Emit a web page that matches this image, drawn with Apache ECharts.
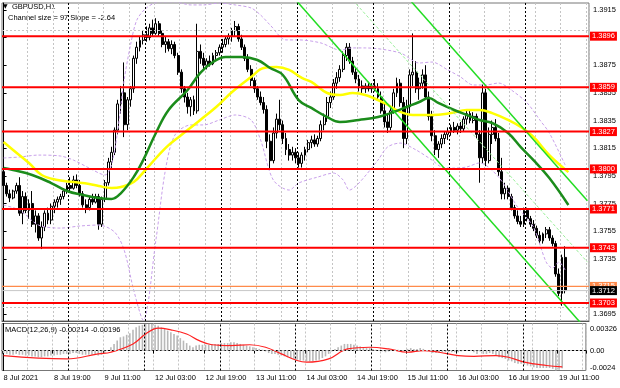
<!DOCTYPE html>
<html><head><meta charset="utf-8">
<script src="https://cdn.jsdelivr.net/npm/echarts@6/dist/echarts.min.js"></script>
<style>html,body{margin:0;padding:0;background:#fff}#c{width:620px;height:388px}</style>
</head><body><div id="c"></div>
<script>
// ---- data ----
const symbolTitle = 'GBPUSD,H1';
const channelText = 'Channel size = 97 Slope = -2.64';
const macdText = 'MACD(12,26,9) -0.00214 -0.00196';
const slotCount = 185;                 // bars + empty right shift
const timeLabels = ['8 Jul 2021','8 Jul 19:00','9 Jul 11:00','12 Jul 03:00','12 Jul 19:00','13 Jul 11:00','14 Jul 03:00','14 Jul 19:00','15 Jul 11:00','16 Jul 03:00','16 Jul 19:00','19 Jul 11:00'];
const labelStep = 16;
const daySeparators = [20.5, 44.5, 68.5, 92.5, 116.5, 140.5, 164.5];
const priceTicks = [1.3695,1.3715,1.3735,1.3755,1.3775,1.3795,1.3815,1.3835,1.3855,1.3875,1.3895,1.3915];
const redLevels = [1.3896,1.3859,1.3827,1.3800,1.3771,1.3743,1.3703];
const orangeLevel = 1.3715;
const lastPrice = 1.3712;
const macdTicks = [0.00326, 0, -0.0024];
const macdTickLabels = ['0.00326','0.00','-0.0024'];
// candles: [open, high, low, close]
const candles = [
[1.3798,1.3800,1.3786,1.3788],[1.3788,1.3790,1.3780,1.3782],[1.3782,1.3785,1.3776,1.3779],[1.3779,1.3785,1.3778,1.3784],[1.3784,1.3790,1.3782,1.3788],
[1.3788,1.3794,1.3766,1.3768],[1.3768,1.3784,1.3760,1.3780],[1.3780,1.3783,1.3768,1.3770],[1.3770,1.3778,1.3764,1.3775],[1.3775,1.3784,1.3758,1.3760],
[1.3760,1.3770,1.3754,1.3766],[1.3766,1.3768,1.3748,1.3750],[1.3750,1.3762,1.3742,1.3758],[1.3758,1.3770,1.3755,1.3768],[1.3768,1.3772,1.3760,1.3763],
[1.3763,1.3775,1.3760,1.3773],[1.3773,1.3778,1.3768,1.3776],[1.3776,1.3780,1.3772,1.3778],[1.3778,1.3782,1.3774,1.3780],[1.3780,1.3786,1.3778,1.3784],
[1.3784,1.3790,1.3782,1.3788],[1.3788,1.3794,1.3784,1.3786],[1.3786,1.3795,1.3785,1.3792],[1.3792,1.3796,1.3786,1.3788],[1.3788,1.3792,1.3780,1.3782],
[1.3782,1.3784,1.3772,1.3774],[1.3774,1.3778,1.3768,1.3772],[1.3772,1.3780,1.3770,1.3778],[1.3778,1.3782,1.3774,1.3776],[1.3776,1.3782,1.3775,1.3780],
[1.3780,1.3782,1.3756,1.3760],[1.3760,1.3780,1.3758,1.3778],[1.3778,1.3792,1.3776,1.3790],[1.3790,1.3808,1.3788,1.3805],[1.3805,1.3816,1.3800,1.3812],
[1.3812,1.3830,1.3810,1.3828],[1.3828,1.3850,1.3825,1.3847],[1.3847,1.3860,1.3840,1.3855],[1.3855,1.3877,1.3823,1.3832],[1.3832,1.3852,1.3828,1.3850],
[1.3850,1.3860,1.3845,1.3858],[1.3858,1.3882,1.3855,1.3880],[1.3880,1.3892,1.3876,1.3888],[1.3888,1.3896,1.3885,1.3893],[1.3893,1.3900,1.3890,1.3897],
[1.3897,1.3903,1.3892,1.3895],[1.3895,1.3905,1.3893,1.3902],[1.3902,1.3908,1.3896,1.3898],[1.3898,1.3909,1.3897,1.3905],[1.3905,1.3907,1.3896,1.3898],
[1.3898,1.3900,1.3888,1.3890],[1.3890,1.3896,1.3884,1.3892],[1.3892,1.3894,1.3885,1.3887],[1.3887,1.3893,1.3883,1.3890],[1.3890,1.3892,1.3880,1.3882],
[1.3882,1.3884,1.3868,1.3870],[1.3870,1.3872,1.3855,1.3858],[1.3858,1.3860,1.3848,1.3852],[1.3852,1.3855,1.3840,1.3845],[1.3845,1.3852,1.3838,1.3850],
[1.3850,1.3853,1.3839,1.3842],[1.3842,1.3905,1.3840,1.3885],[1.3885,1.3890,1.3876,1.3880],[1.3880,1.3884,1.3872,1.3875],[1.3875,1.3880,1.3872,1.3878],
[1.3878,1.3882,1.3874,1.3876],[1.3876,1.3884,1.3875,1.3882],[1.3882,1.3886,1.3878,1.3884],[1.3884,1.3890,1.3882,1.3888],[1.3888,1.3894,1.3884,1.3890],
[1.3890,1.3896,1.3888,1.3894],[1.3894,1.3898,1.3890,1.3896],[1.3896,1.3902,1.3892,1.3900],[1.3900,1.3907,1.3896,1.3903],[1.3903,1.3905,1.3892,1.3894],
[1.3894,1.3897,1.3886,1.3888],[1.3888,1.3890,1.3878,1.3880],[1.3880,1.3883,1.3870,1.3872],[1.3872,1.3875,1.3860,1.3864],[1.3864,1.3866,1.3855,1.3858],
[1.3858,1.3860,1.3850,1.3852],[1.3852,1.3856,1.3846,1.3848],[1.3848,1.3852,1.3840,1.3843],[1.3843,1.3846,1.3815,1.3820],[1.3820,1.3825,1.3800,1.3806],
[1.3806,1.3830,1.3804,1.3826],[1.3826,1.3840,1.3822,1.3836],[1.3836,1.3850,1.3828,1.3832],[1.3832,1.3835,1.3818,1.3822],[1.3822,1.3826,1.3810,1.3814],
[1.3814,1.3818,1.3806,1.3810],[1.3810,1.3816,1.3806,1.3812],[1.3812,1.3815,1.3804,1.3808],[1.3808,1.3812,1.3801,1.3804],[1.3804,1.3812,1.3801,1.3810],
[1.3810,1.3816,1.3806,1.3814],[1.3814,1.3821,1.3812,1.3819],[1.3819,1.3824,1.3815,1.3821],[1.3821,1.3825,1.3816,1.3818],[1.3818,1.3824,1.3816,1.3822],
[1.3822,1.3835,1.3820,1.3832],[1.3832,1.3840,1.3828,1.3838],[1.3838,1.3852,1.3834,1.3848],[1.3848,1.3856,1.3844,1.3852],[1.3852,1.3865,1.3850,1.3862],
[1.3862,1.3870,1.3858,1.3866],[1.3866,1.3875,1.3863,1.3872],[1.3872,1.3885,1.3870,1.3882],[1.3882,1.3891,1.3878,1.3888],[1.3888,1.3891,1.3876,1.3878],
[1.3878,1.3881,1.3868,1.3870],[1.3870,1.3873,1.3862,1.3865],[1.3865,1.3868,1.3856,1.3860],[1.3860,1.3864,1.3854,1.3858],[1.3858,1.3862,1.3855,1.3860],
[1.3860,1.3863,1.3856,1.3858],[1.3858,1.3862,1.3855,1.3860],[1.3860,1.3865,1.3856,1.3858],[1.3858,1.3862,1.3850,1.3852],[1.3852,1.3856,1.3840,1.3842],
[1.3842,1.3848,1.3830,1.3834],[1.3834,1.3840,1.3826,1.3830],[1.3830,1.3845,1.3828,1.3842],[1.3842,1.3858,1.3840,1.3855],[1.3855,1.3866,1.3852,1.3862],
[1.3862,1.3865,1.3845,1.3848],[1.3848,1.3852,1.3815,1.3822],[1.3822,1.3850,1.3818,1.3845],[1.3845,1.3872,1.3840,1.3868],[1.3868,1.3898,1.3860,1.3870],
[1.3870,1.3878,1.3855,1.3858],[1.3858,1.3866,1.3850,1.3862],[1.3862,1.3872,1.3858,1.3868],[1.3868,1.3875,1.3850,1.3852],[1.3852,1.3856,1.3835,1.3838],
[1.3838,1.3842,1.3820,1.3824],[1.3824,1.3828,1.3810,1.3814],[1.3814,1.3820,1.3808,1.3818],[1.3818,1.3825,1.3815,1.3822],[1.3822,1.3827,1.3818,1.3825],
[1.3825,1.3830,1.3821,1.3827],[1.3827,1.3832,1.3824,1.3830],[1.3830,1.3834,1.3826,1.3828],[1.3828,1.3833,1.3825,1.3831],[1.3831,1.3834,1.3826,1.3829],
[1.3829,1.3838,1.3827,1.3836],[1.3836,1.3842,1.3832,1.3840],[1.3840,1.3842,1.3833,1.3835],[1.3835,1.3841,1.3833,1.3838],[1.3838,1.3840,1.3822,1.3825],
[1.3825,1.3828,1.3790,1.3808],[1.3808,1.3861,1.3804,1.3855],[1.3855,1.3858,1.3802,1.3806],[1.3806,1.3830,1.3804,1.3825],[1.3825,1.3835,1.3818,1.3830],
[1.3830,1.3836,1.3820,1.3822],[1.3822,1.3826,1.3795,1.3798],[1.3798,1.3808,1.3778,1.3782],[1.3782,1.3790,1.3778,1.3786],[1.3786,1.3788,1.3778,1.3780],
[1.3780,1.3782,1.3770,1.3772],[1.3772,1.3774,1.3764,1.3766],[1.3766,1.3770,1.3760,1.3762],[1.3762,1.3766,1.3758,1.3760],[1.3760,1.3772,1.3758,1.3770],
[1.3770,1.3772,1.3762,1.3764],[1.3764,1.3766,1.3758,1.3760],[1.3760,1.3763,1.3755,1.3757],[1.3757,1.3759,1.3750,1.3752],[1.3752,1.3755,1.3746,1.3748],
[1.3748,1.3754,1.3746,1.3753],[1.3753,1.3758,1.3750,1.3756],[1.3756,1.3758,1.3748,1.3750],[1.3750,1.3752,1.3744,1.3746],[1.3746,1.3748,1.3722,1.3724],
[1.3724,1.3728,1.3708,1.3710],[1.3710,1.3738,1.3701,1.3736],[1.3736,1.3744,1.3710,1.3712]
];
// moving averages / bands / channel: [bar index, price]
const yellowMA = [[0,1.38195],[3,1.38137],[8,1.38043],[12,1.37956],[17,1.37920],[22,1.37905],[27,1.37891],[30,1.37876],[34,1.37862],[37,1.37869],[41,1.37905],[45,1.38000],[51,1.38151],[56,1.38245],[62,1.38354],[67,1.38448],[72,1.38556],[78,1.38665],[82,1.38730],[86,1.38737],[90,1.38716],[94,1.38658],[97,1.38629],[102,1.38549],[106,1.38535],[110,1.38549],[114,1.38535],[120,1.38477],[125,1.38412],[129,1.38390],[135,1.38390],[141,1.38404],[146,1.38426],[150,1.38426],[154,1.38404],[159,1.38354],[163,1.38303],[167,1.38231],[172,1.38100],[178,1.37977]];
const greenMA = [[0,1.38006],[3,1.37992],[9,1.37956],[15,1.37898],[20,1.37840],[25,1.37811],[30,1.37789],[34,1.37782],[37,1.37825],[41,1.37941],[44,1.38064],[48,1.38260],[52,1.38426],[58,1.38571],[62,1.38694],[66,1.38773],[70,1.38810],[75,1.38810],[80,1.38788],[84,1.38730],[88,1.38679],[93,1.38498],[97,1.38441],[102,1.38375],[106,1.38339],[112,1.38354],[118,1.38375],[123,1.38412],[127,1.38448],[131,1.38484],[134,1.38513],[137,1.38477],[142,1.38426],[146,1.38390],[150,1.38354],[154,1.38332],[159,1.38260],[163,1.38158],[167,1.38064],[172,1.37934],[178,1.37739]];
const bandUpper = [[0,1.38079],[5,1.38086],[11,1.38100],[18,1.38093],[22,1.38064],[27,1.38006],[32,1.37956],[34,1.38028],[36,1.38281],[38,1.38643],[40,1.38896],[42,1.39077],[45,1.39164],[49,1.39208],[54,1.39208],[59,1.39186],[63,1.39186],[68,1.39200],[73,1.39186],[78,1.39164],[81,1.39113],[84,1.39041],[89,1.38933],[93,1.38933],[100,1.38911],[106,1.38860],[110,1.38875],[114,1.38875],[125,1.38839],[131,1.38766],[135,1.38773],[140,1.38716],[144,1.38665],[148,1.38607],[152,1.38607],[156,1.38621],[160,1.38571],[165,1.38477],[169,1.38354],[172,1.38260],[177,1.38028]];
const bandLower = [[0,1.37738],[5,1.37702],[11,1.37594],[18,1.37572],[24,1.37587],[30,1.37594],[35,1.37543],[38,1.37413],[41,1.37124],[44,1.36906],[48,1.37485],[51,1.37992],[54,1.38245],[59,1.38318],[63,1.38318],[68,1.38354],[73,1.38390],[78,1.38354],[81,1.38209],[85,1.37920],[90,1.37847],[93,1.37898],[99,1.37941],[104,1.37970],[107,1.37920],[109,1.37847],[112,1.37898],[118,1.38064],[121,1.38158],[125,1.38187],[130,1.38137],[135,1.38064],[138,1.38014],[142,1.38006],[146,1.38014],[150,1.38043],[156,1.37941],[162,1.37724],[167,1.37579],[171,1.37326],[173,1.37283],[175,1.37326],[177,1.37268]];
const channelLow = [[90,1.39276],[184,1.36831]];
const channelHigh = [[124,1.39327],[184,1.37769]];
const channelMid = [[107,1.39299],[184,1.37326]];
// MACD
const macdHist = [
-0.0003,-0.0004,-0.0005,-0.0005,-0.0004,-0.0005,-0.0005,-0.0006,-0.0006,-0.0007,
-0.0007,-0.0008,-0.0008,-0.0007,-0.0007,-0.0006,-0.0006,-0.0005,-0.0005,-0.0004,
-0.0004,-0.0004,-0.0003,-0.0003,-0.0004,-0.0005,-0.0005,-0.0005,-0.0005,-0.0004,
-0.0006,-0.0005,-0.0003,0.0000,0.0004,0.0008,0.0012,0.0016,0.0017,0.0019,
0.0021,0.0025,0.0028,0.0030,0.0031,0.0032,0.0032,0.0032,0.0031,0.0030,
0.0028,0.0026,0.0024,0.0022,0.0020,0.0018,0.0015,0.0012,0.0009,0.0006,
0.0004,0.0006,0.0007,0.0007,0.0007,0.0007,0.0008,0.0008,0.0008,0.0009,
0.0009,0.0009,0.0010,0.0010,0.0009,0.0008,0.0007,0.0006,0.0005,0.0004,
0.0003,0.0002,0.0001,-0.0001,-0.0003,-0.0004,-0.0004,-0.0005,-0.0006,-0.0007,
-0.0008,-0.0009,-0.0010,-0.0011,-0.0012,-0.0012,-0.0013,-0.0013,-0.0013,-0.0012,
-0.0011,-0.0009,-0.0007,-0.0004,-0.0001,0.0002,0.0004,0.0006,0.0008,0.0008,
0.0008,0.0007,0.0006,0.0005,0.0004,0.0003,0.0003,0.0002,0.0001,0.0000,
-0.0001,-0.0002,-0.0001,0.0000,0.0001,0.0001,-0.0001,0.0000,0.0002,0.0003,
0.0002,0.0002,0.0003,0.0002,0.0000,-0.0001,-0.0003,-0.0003,-0.0003,-0.0002,
-0.0002,-0.0002,-0.0002,-0.0002,-0.0002,-0.0001,0.0000,0.0000,0.0000,-0.0002,
-0.0004,-0.0001,-0.0004,-0.0004,-0.0003,-0.0004,-0.0006,-0.0008,-0.0009,-0.0010,
-0.0012,-0.0013,-0.0015,-0.0016,-0.0016,-0.0017,-0.0018,-0.0019,-0.0020,-0.0021,
-0.0021,-0.0021,-0.0021,-0.0021,-0.0022,-0.0024,-0.0023,-0.00214];
const macdSignal = [[0,-0.0006],[20,-0.0010],[30,-0.0004],[34,-0.0002],[41,0.0008],[45,0.0020],[49,0.0027],[53,0.0025],[58,0.0020],[62,0.0012],[66,0.0007],[72,0.0006],[78,0.0007],[83,0.0004],[88,-0.0004],[93,-0.0012],[96,-0.0014],[103,-0.0010],[109,0.0002],[116,0.0004],[122,0.0002],[128,-0.0002],[133,0.0000],[138,-0.0002],[144,-0.0006],[149,-0.0007],[156,-0.0006],[160,-0.0008],[165,-0.0014],[172,-0.0018],[177,-0.00196]];

// ---- chart ----
const FONT = 'Liberation Sans';
const FS = 7.5;
const cats = Array.from({length: slotCount}, (_, i) => String(i));
const xLo = -0.5, xHi = slotCount - 0.5;
const gridL = 2, gridR = 31;
const dash = {color: '#c4c4c4', type: [2, 2], width: 1};
const daySepStyle = {color: '#000', type: [2, 2], width: 1};

function levelSeries(v, lineColor, boxColor, width) {
  return {type: 'line', xAxisIndex: 1, yAxisIndex: 0, data: [[xLo, v], [xHi, v]], showSymbol: false, silent: true, z: 7,
    lineStyle: {color: lineColor, width: width},
    endLabel: {show: true, formatter: () => v.toFixed(4), distance: 1, backgroundColor: boxColor, color: '#fff',
      padding: [1, 2, 0, 2], fontSize: FS, fontFamily: FONT}};
}

const series = [
  // grid lines and day separators in the price pane
  {type: 'line', xAxisIndex: 1, yAxisIndex: 0, data: [], silent: true, z: 1,
   markLine: {silent: true, symbol: ['none', 'none'], label: {show: false}, animation: false,
     data: priceTicks.map(v => ({yAxis: v, lineStyle: dash})).concat(daySeparators.map(v => ({xAxis: v, lineStyle: daySepStyle})))}},
  // day separators + zero line in MACD pane
  {type: 'line', xAxisIndex: 3, yAxisIndex: 1, data: [], silent: true, z: 1,
   markLine: {silent: true, symbol: ['none', 'none'], label: {show: false}, animation: false,
     data: [{yAxis: 0, lineStyle: dash}].concat(daySeparators.map(v => ({xAxis: v, lineStyle: daySepStyle})))}},
  {type: 'candlestick', xAxisIndex: 0, yAxisIndex: 0, z: 3, barWidth: 2.4,
   data: candles.map(c => [c[0], c[3], c[2], c[1]]),
   itemStyle: {color: '#ffffff', color0: '#000000', borderColor: '#000000', borderColor0: '#000000', borderWidth: 1}},
  {type: 'line', xAxisIndex: 1, yAxisIndex: 0, data: bandUpper, smooth: 0.3, showSymbol: false, z: 4, silent: true,
   lineStyle: {color: '#c8a0ea', width: 1, type: [3, 2]}},
  {type: 'line', xAxisIndex: 1, yAxisIndex: 0, data: bandLower, smooth: 0.3, showSymbol: false, z: 4, silent: true,
   lineStyle: {color: '#c8a0ea', width: 1, type: [3, 2]}},
  {type: 'line', xAxisIndex: 1, yAxisIndex: 0, data: yellowMA, smooth: 0.4, showSymbol: false, z: 5, silent: true,
   lineStyle: {color: '#ffff00', width: 2.5}},
  {type: 'line', xAxisIndex: 1, yAxisIndex: 0, data: greenMA, smooth: 0.4, showSymbol: false, z: 5, silent: true,
   lineStyle: {color: '#1b8c1b', width: 2.5}},
  {type: 'line', xAxisIndex: 1, yAxisIndex: 0, data: channelLow, showSymbol: false, z: 6, silent: true, clip: true,
   lineStyle: {color: '#22dd22', width: 1.5}},
  {type: 'line', xAxisIndex: 1, yAxisIndex: 0, data: channelHigh, showSymbol: false, z: 6, silent: true, clip: true,
   lineStyle: {color: '#22dd22', width: 1.5}},
  {type: 'line', xAxisIndex: 1, yAxisIndex: 0, data: channelMid, showSymbol: false, z: 6, silent: true, clip: true,
   lineStyle: {color: '#99ee99', width: 1, type: [3, 2]}}
];
redLevels.forEach(v => series.push(levelSeries(v, '#ff0000', '#ff0000', 2)));
series.push(levelSeries(orangeLevel, '#ff8a4a', '#ff8a4a', 1.2));
series.push(levelSeries(lastPrice, '#c8c8c8', '#000000', 1));
series.push(
  {type: 'bar', xAxisIndex: 2, yAxisIndex: 1, data: macdHist, barWidth: 1.6, z: 3, silent: true,
   itemStyle: {color: '#b8b8b8'}},
  {type: 'line', xAxisIndex: 3, yAxisIndex: 1, data: macdSignal, smooth: 0.4, showSymbol: false, z: 4, silent: true,
   lineStyle: {color: '#ff2020', width: 1.2}}
);

const option = {
  animation: false,
  backgroundColor: '#ffffff',
  textStyle: {fontFamily: FONT},
  grid: [
    {left: gridL, right: gridR, top: 3, height: 318, show: true, borderColor: '#777', borderWidth: 1, backgroundColor: 'transparent'},
    {left: gridL, right: gridR, top: 323.5, height: 47, show: true, borderColor: '#777', borderWidth: 1, backgroundColor: 'transparent'}
  ],
  xAxis: [
    {type: 'category', gridIndex: 0, data: cats, boundaryGap: true,
     axisLine: {show: true, lineStyle: {color: '#555'}}, axisTick: {show: false}, axisLabel: {show: false},
     splitLine: {show: true, interval: (i) => i > 0 && i % 8 === 0, lineStyle: dash}},
    {type: 'value', gridIndex: 0, min: xLo, max: xHi, show: false},
    {type: 'category', gridIndex: 1, data: cats, boundaryGap: true,
     axisLine: {show: true, lineStyle: {color: '#000'}},
     axisTick: {show: true, interval: (i) => i % labelStep === 0, length: 3, lineStyle: {color: '#000'}},
     axisLabel: {show: true, interval: (i) => i % labelStep === 0, formatter: (v, i) => timeLabels[i / labelStep] || '',
       align: 'left', margin: 3, fontSize: FS, color: '#000', fontFamily: FONT},
     splitLine: {show: true, interval: (i) => i > 0 && i % 8 === 0, lineStyle: dash}},
    {type: 'value', gridIndex: 1, min: xLo, max: xHi, show: false}
  ],
  yAxis: [
    {type: 'value', gridIndex: 0, position: 'right', min: 1.3690, max: 1.3920, scale: true,
     axisLine: {show: true, lineStyle: {color: '#000'}},
     axisTick: {show: true, customValues: priceTicks, length: 3, lineStyle: {color: '#000'}},
     axisLabel: {show: true, customValues: priceTicks, formatter: v => v.toFixed(4), margin: 4, fontSize: FS, color: '#000', fontFamily: FONT},
     splitLine: {show: false}},
    {type: 'value', gridIndex: 1, position: 'right', min: -0.0024, max: 0.00326,
     axisLine: {show: true, lineStyle: {color: '#000'}},
     axisTick: {show: false},
     axisLabel: {show: true, customValues: macdTicks, margin: 4, fontSize: FS, color: '#000', fontFamily: FONT,
       formatter: v => {
         const k = macdTicks.findIndex(t => Math.abs(t - v) < 1e-9);
         const tag = k === 0 ? 't' : (k === 2 ? 'b' : 'm');
         return '{' + tag + '|' + macdTickLabels[k] + '}';
       },
       rich: {t: {padding: [11, 0, 0, 0], fontSize: FS, fontFamily: FONT}, m: {fontSize: FS, fontFamily: FONT}, b: {padding: [0, 0, 6, 0], fontSize: FS, fontFamily: FONT}}},
     splitLine: {show: false}}
  ],
  graphic: [
    {type: 'text', left: 3, top: 3, style: {text: '▼', fontSize: 6, fill: '#000', fontFamily: 'DejaVu Sans'}},
    {type: 'text', left: 12, top: 3, style: {text: symbolTitle, fontSize: FS, fill: '#000', fontFamily: FONT}},
    {type: 'text', left: 8, top: 14, style: {text: channelText, fontSize: FS, fill: '#000', fontFamily: FONT}},
    {type: 'text', left: 5, top: 326, style: {text: macdText, fontSize: FS, fill: '#000', fontFamily: FONT}}
  ],
  series: series
};
const chart = echarts.init(document.getElementById('c'), null, {renderer: 'canvas'});
chart.setOption(option);
</script>
</body></html>
